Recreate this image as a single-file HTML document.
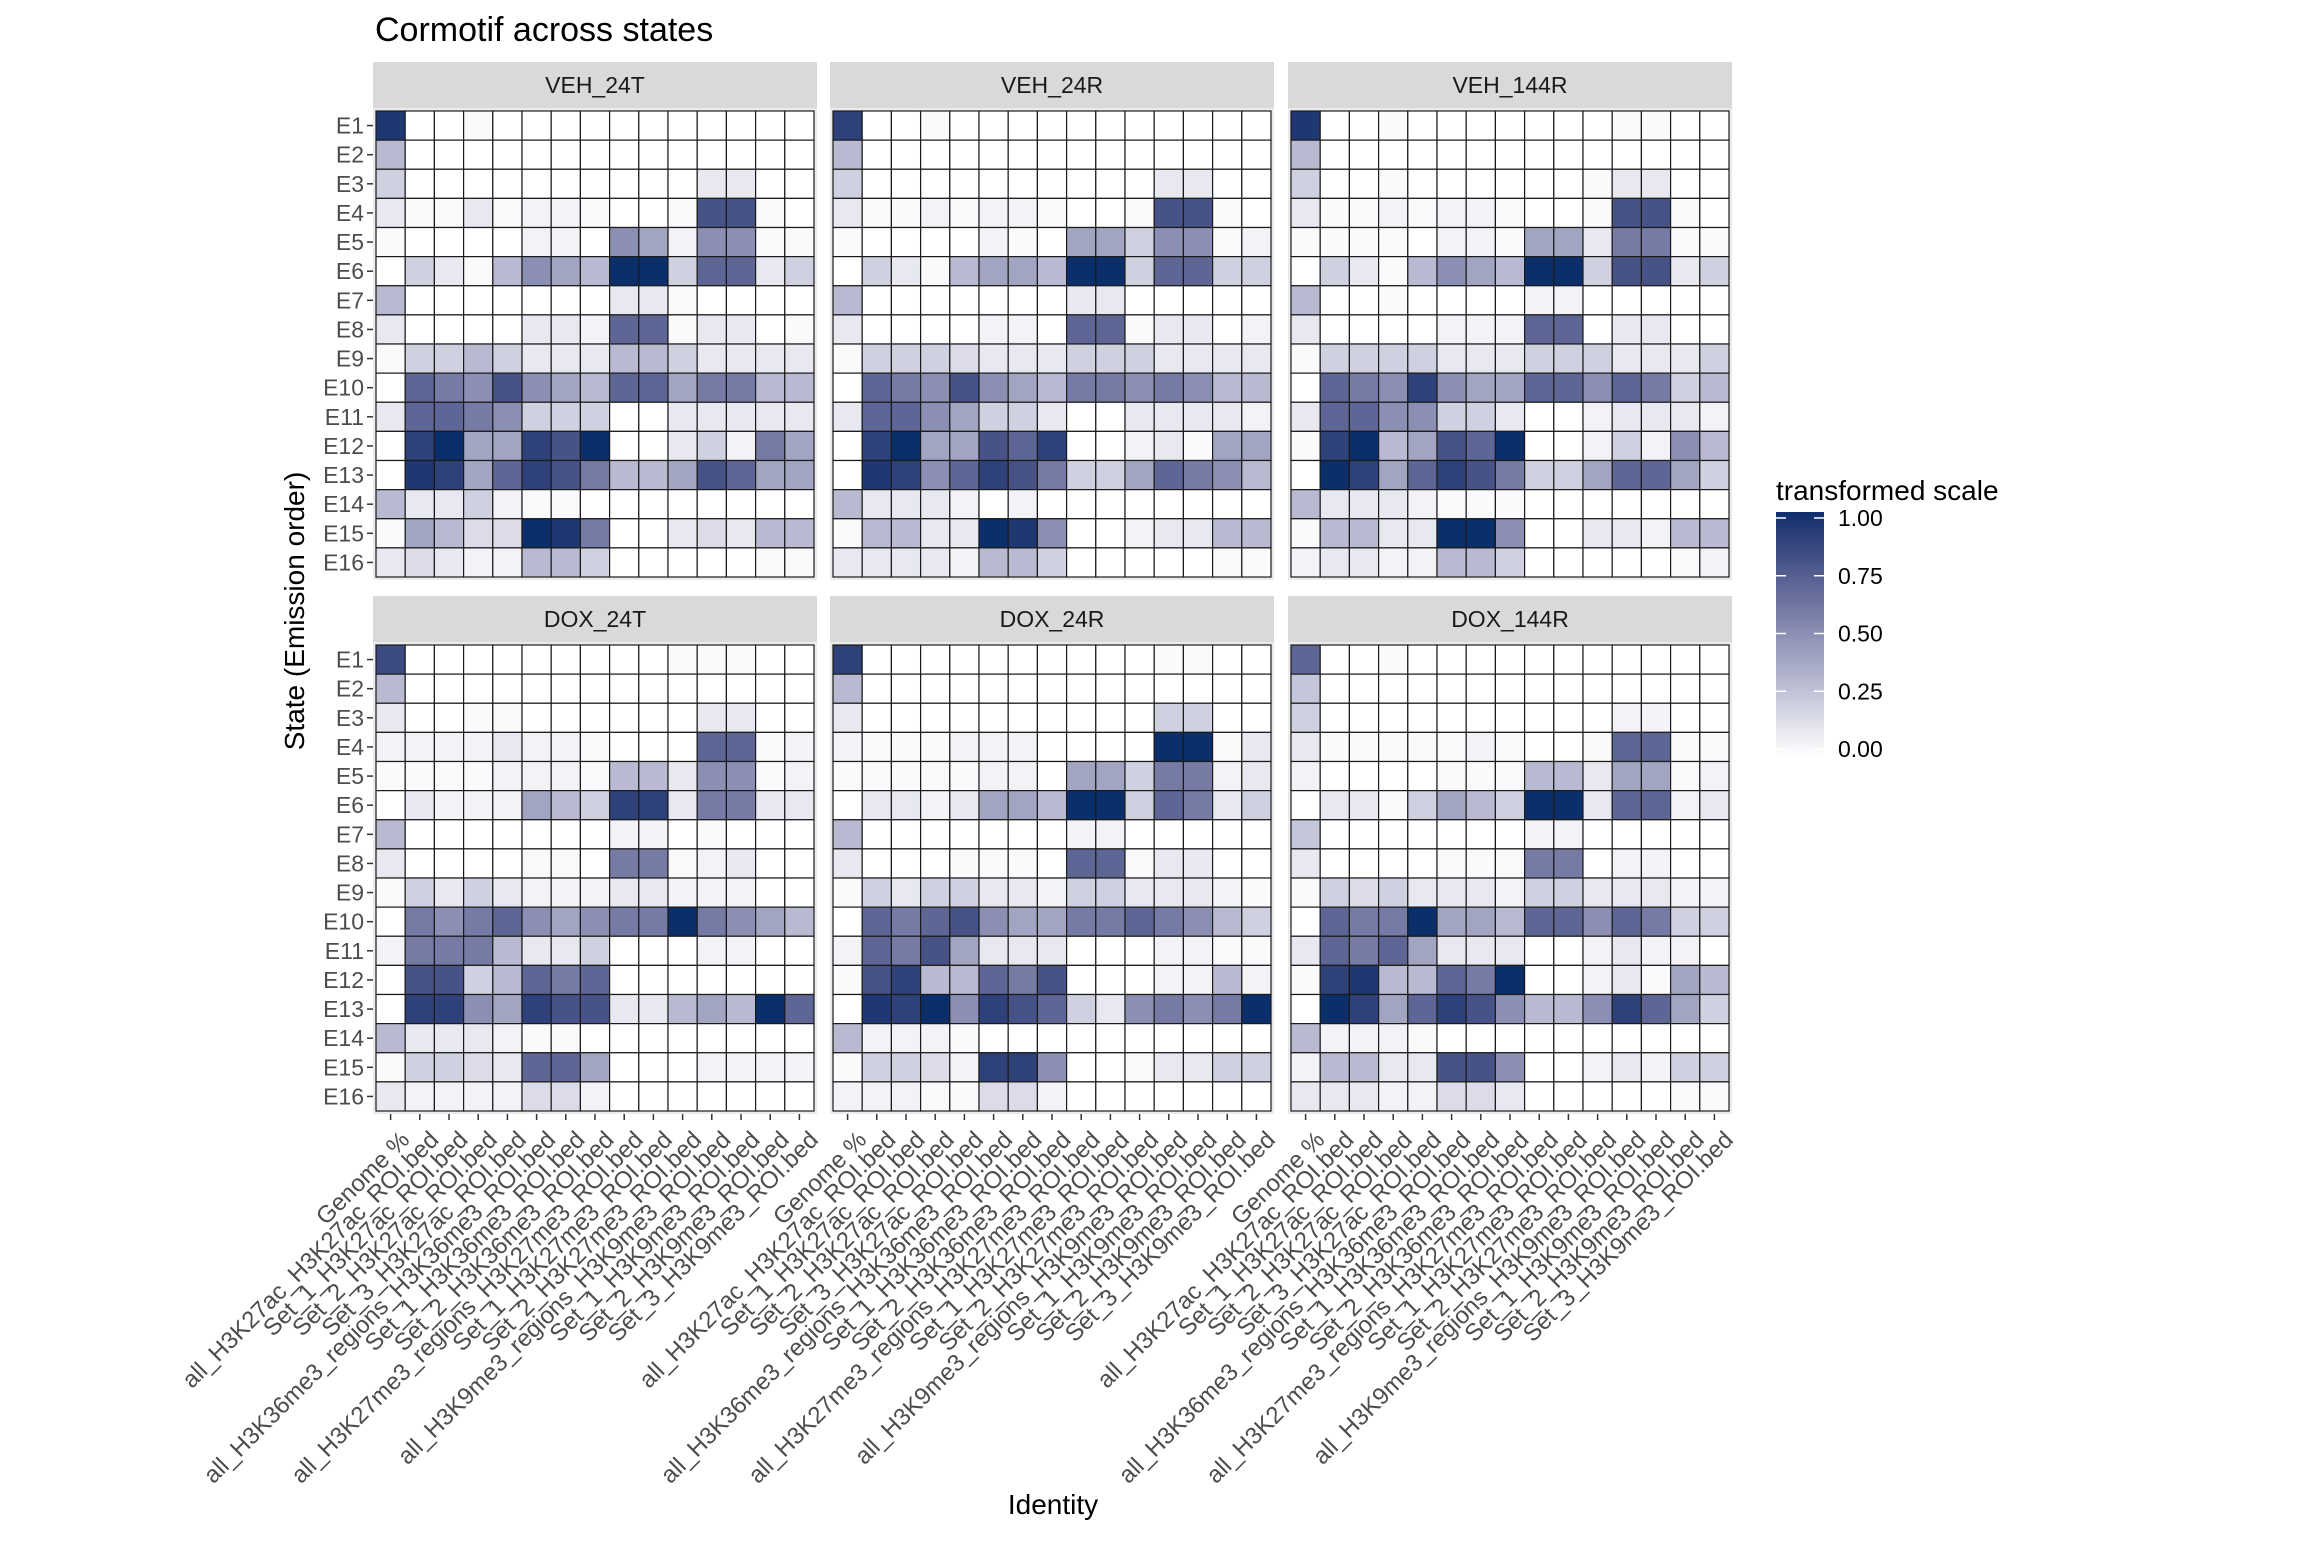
<!DOCTYPE html>
<html><head><meta charset="utf-8"><style>
html,body{margin:0;padding:0;background:#fff;}
svg text{font-family:"Liberation Sans",Arial,sans-serif;}
</style></head><body>
<svg id="chart" width="2304" height="1536" viewBox="0 0 2304 1536" xmlns="http://www.w3.org/2000/svg">
<rect width="2304" height="1536" fill="#fff"/>
<text x="375" y="41" font-size="34" fill="#000">Cormotif across states</text>
<text transform="translate(304,611) rotate(-90)" text-anchor="middle" font-size="28" fill="#000">State (Emission order)</text>
<text x="1053" y="1514" text-anchor="middle" font-size="28" fill="#000">Identity</text>
<g id="panels"></g>
<g id="legend"></g>
</svg>
<script>
const states = ["E1","E2","E3","E4","E5","E6","E7","E8","E9","E10","E11","E12","E13","E14","E15","E16"];
const identities = ["Genome %","all_H3K27ac_H3K27ac_ROI.bed","Set_1_H3K27ac_ROI.bed","Set_2_H3K27ac_ROI.bed","Set_3_H3K27ac_ROI.bed","all_H3K36me3_regions_H3K36me3_ROI.bed","Set_1_H3K36me3_ROI.bed","Set_2_H3K36me3_ROI.bed","all_H3K27me3_regions_H3K27me3_ROI.bed","Set_1_H3K27me3_ROI.bed","Set_2_H3K27me3_ROI.bed","all_H3K9me3_regions_H3K9me3_ROI.bed","Set_1_H3K9me3_ROI.bed","Set_2_H3K9me3_ROI.bed","Set_3_H3K9me3_ROI.bed"];
const panelNames = ["VEH_24T","VEH_24R","VEH_144R","DOX_24T","DOX_24R","DOX_144R"];
const legendTicks = [0, 0.25, 0.5, 0.75, 1];
const legendLabels = ["0.00","0.25","0.50","0.75","1.00"];
// values on 0-10 scale (divided by 10)
const veh24T = [
[9.5,0,0,0.2,0,0,0,0,0,0,0,0,0,0,0],
[3,0,0,0,0,0,0,0,0,0,0,0,0,0,0],
[2,0,0,0,0,0,0,0,0,0,0,1,1,0,0],
[1,0.2,0.2,1,0.2,0.5,0.5,0.2,0,0,0.2,8,8,0.2,0],
[0.2,0,0,0,0,0.5,0.5,0,5,4,0.5,5,5,0.2,0.2],
[0,2,1,0.2,3,5,4,3,10,10,2,7,7,1,2],
[3,0,0,0,0,0,0,0,1,1,0.2,0,0,0,0],
[1,0,0,0,0,1,1,0.5,7,7,0.2,1,1,0,0.2],
[0.2,2,2,3,2,1,1,1,3,3,2,1,1,1,1],
[0,7,6,5,8,5,4,3,7,7,4,6,6,3,3],
[1,7,7,6,5,2,2,2,0,0,1,1,1,1,1],
[0,9,10,4,4,9,8,10,0,0,1,2,0.5,6,4],
[0,9.5,9,4,7,9,8,6,3,3,4,8,7,4,4],
[3,1,1,2,0.5,0.2,0.2,0,0,0,0,0,0,0,0],
[0.2,4,3,1.5,1.5,10,9.5,6,0,0,1,1.5,1,3,3],
[1,1.5,1,0.5,0.5,3,3,2,0,0,0,0,0,0.2,0.2]];
const veh24R = [
[9,0,0,0.2,0,0,0,0,0,0,0,0,0,0,0],
[3,0,0,0,0,0,0,0,0,0,0,0,0,0,0],
[2,0,0,0,0,0,0,0,0,0,0,1,1,0,0],
[1,0.2,0.2,0.5,0.2,0.5,0.5,0.2,0,0,0.2,8,8,0.2,0],
[0.2,0,0,0,0,0.5,0.2,0,4,4,2,5,5,0.2,0.5],
[0,2,1,0.2,3,4,4,3,10,10,2,7,7,2,2],
[3,0,0,0,0,0,0,0,1,1,0,0,0,0,0],
[1,0,0,0,0,0.5,0.5,0,7,7,0.2,1,1,0,0.5],
[0.2,2,2,2,1.5,1,1,1,2,2,2,1,1,1,1],
[0,7,6,5,8,5,4,3,6,6,5,6,5,3,3],
[1,7,7,5,4,2,2,1,0,0,1,1,1,1,0.5],
[0,9,10,4,4,8,7,9,0,0,0.5,1,0.2,4,4],
[0,9.5,9,5,7,9,8,6,2,2,4,7,6,5,3],
[3,1,1,1,0.5,0,0.5,0,0,0,0,0,0,0,0],
[0.2,3,3,1,1,10,9.5,5,0,0,0.5,1,1,3,3],
[1,1,1,1,0.5,3,3,2,0,0,0,0,0,0.2,0.2]];
const veh144R = [
[9.5,0,0,0.2,0,0,0,0,0,0,0,0.2,0.2,0,0],
[3,0,0,0,0,0,0,0,0,0,0,0,0,0,0],
[2,0,0,0.2,0,0,0,0,0,0,0.2,1,1,0,0],
[1,0.2,0.2,0.5,0.2,0.5,0.5,0.2,0,0,0.2,8,8,0.2,0],
[0.2,0.2,0.2,0.2,0,0.5,0.5,0.2,4,4,1,6,6,0.2,0.2],
[0,2,1,0.2,3,5,4,3,10,10,2,8,8,1,2],
[3,0,0,0.2,0,0,0,0,0.5,0.5,0,0,0,0,0],
[1,0,0,0,0,0.5,0.5,0.5,7,7,0,1,1,0,0],
[0.2,2,2,2,2,1,1,1,2,2,2,1,1,1,2],
[0,7,6,5,9,5,4,4,7,7,5,7,6,2,3],
[1,7,7,5,5,2,2,1,0,0,0.5,1,1,1,0.5],
[0.2,9,10,3,4,8,7,10,0,0,0.5,2,0.5,5,3],
[0,10,9,4,7,9,8,6,2,2,4,7,7,4,2],
[3,1,1,1,0.5,0.2,0.2,0.2,0,0,0,0,0,0,0],
[0.2,3,3,1,1,10,10,5,0,0,1,1,0.5,3,3],
[0.5,1,1,0.5,0.5,3,3,2,0,0,0,0,0,0.2,0.5]];
const dox24T = [
[8.5,0,0,0,0,0,0,0,0,0,0.2,0.2,0.2,0,0],
[3,0,0,0,0,0,0,0,0,0,0,0,0,0,0],
[1,0,0,0.2,0.2,0,0,0,0,0,0,1,1,0,0],
[0.5,0.5,0.5,0.5,1,0.5,0.5,0.2,0,0,0,7,7,0.2,0.5],
[0.2,0.2,0.2,0.2,0.5,0.5,0.5,0.2,3,3,1,5,5,0.2,0.5],
[0,1,0.5,0.5,0.5,4,3,2,9,9,1,6,6,1,1],
[3,0,0,0,0,0,0,0,0.5,0.5,0,0.2,0,0,0],
[1,0,0,0,0,0.2,0.2,0,6,6,0.2,0.5,1,0,0],
[0.2,2,1,2,1,0.5,0.5,0.5,1,1,0.5,0.5,0.5,0,0],
[0,6,5,6,7,5,4,5,6,6,10,6,5,4,3],
[0.5,6,6,6,3,1,1,2,0,0,0,0.5,0.5,0,0],
[0,8,8,2,3,7,6,7,0,0,0,0,0,0,0],
[0,9,9,5,4,9,8,8,1,1,3,4,3,10,7],
[3,1,1,1,0.5,0.2,0.2,0,0,0,0,0,0,0,0],
[0.2,2,2,1.5,1,7,7,4,0,0,0,0.5,0.5,0.5,0.5],
[1,0.5,0.5,0.5,0.5,1.5,1.5,0.5,0,0,0,0,0,0,0]];
const dox24R = [
[9,0,0,0,0,0,0,0,0,0,0,0.2,0.2,0,0],
[3,0,0,0,0,0,0,0,0,0,0,0,0,0,0],
[1,0,0,0,0,0,0,0,0,0,0,2,2,0,0],
[0.5,0.2,0.2,0.2,0.5,0.5,0.5,0,0,0,0,10,10,0.2,1],
[0.2,0.2,0.2,0.2,0.2,0.5,0.5,0,4,4,2,6,6,0.5,1],
[0,1,1,0.5,1,4,4,3,10,10,2,7,6,1,2],
[3,0,0,0,0,0,0,0,0.5,0.5,0,0,0,0,0],
[1,0,0,0,0.2,0.2,0.2,0,7,7,0.2,1,1,0,0],
[0.2,2,1,2,2,1,1,0.5,2,2,1,1,1,0.5,0.2],
[0,7,6,7,8,5,4,4,6,6,7,6,5,3,2],
[0.5,7,6,8,4,1,1,1,0,0,0,0.5,0.5,0.2,0.2],
[0.2,8,9,3,3,7,6,8,0,0,0,0.5,0.5,3,0.5],
[0,9.5,9,10,5,9,8,7,2,1,5,6,5,6,10],
[3,0.5,0.5,0.5,0.2,0,0,0,0,0,0,0,0,0,0],
[0.2,2,2,1.5,0.5,9,9,5,0,0,0.2,1,1,2,2],
[0.5,0.5,0.5,0.2,0.2,1.5,1.5,0.5,0,0,0,0,0,0,0]];
const dox144R = [
[7,0,0,0.2,0,0,0,0,0,0,0,0,0,0,0],
[2.5,0,0,0,0,0,0,0,0,0,0,0,0,0,0],
[2,0,0,0,0,0,0,0,0,0,0,0.5,0.5,0,0],
[1,0.2,0.2,0.2,0.2,0.2,0.5,0.2,0,0,0.2,7,7,0.2,0.2],
[0.5,0,0,0,0,0.2,0.2,0.2,3,3,1,4,4,0.2,0.5],
[0,1,1,0.2,2,4,3,2,10,10,1,7,7,0.5,1],
[2.5,0,0,0,0,0,0,0,0.5,0.5,0,0,0,0,0],
[1,0,0,0,0,0.2,0.2,0.2,6,6,0,0.5,0.5,0,0],
[0.2,2,1.5,2,1,1,1,0.5,2,2,1,1,1,0.5,0.5],
[0,7,6,6,10,4,4,3,7,7,5,7,6,2,2],
[1,7,6,7,4,1,1,1,0,0,0.5,1,0.5,0.5,0],
[0.2,9,9.5,3,3,7,6,10,0,0,0.5,1,0.2,4,3],
[0,10,9,4,7,9,8,5,3,3,5,9,7,4,2],
[3,0.5,0.5,0.5,0.2,0,0,0,0,0,0,0,0,0,0],
[0.5,3,3,1,1,8,8,5,0,0,0.5,1,0.5,2,2],
[1,1,1,0.5,0.5,1.5,1.5,1,0,0,0,0,0,0.2,0.2]];
const panelValues = [veh24T, veh24R, veh144R, dox24T, dox24R, dox144R];

const NS = "http://www.w3.org/2000/svg";
function mk(tag, attrs, parent){const e=document.createElementNS(NS,tag);for(const k in attrs)e.setAttribute(k,attrs[k]);if(parent)parent.appendChild(e);return e;}
function s2l(c){c/=255;return c<=0.04045?c/12.92:Math.pow((c+0.055)/1.055,2.4);}
function l2s(c){c=c<=0.0031308?12.92*c:1.055*Math.pow(c,1/2.4)-0.055;return Math.max(0,Math.min(255,Math.round(c*255)));}
function rgb2lab(r,g,b){r=s2l(r);g=s2l(g);b=s2l(b);let x=(r*0.4124+g*0.3576+b*0.1805)/0.95047,y=r*0.2126+g*0.7152+b*0.0722,z=(r*0.0193+g*0.1192+b*0.9505)/1.08883;const f=t=>t>0.008856?Math.cbrt(t):7.787*t+16/116;x=f(x);y=f(y);z=f(z);return [116*y-16,500*(x-y),200*(y-z)];}
function lab2rgb(L,a,b){let y=(L+16)/116,x=a/500+y,z=y-b/200;const fi=t=>t*t*t>0.008856?t*t*t:(t-16/116)/7.787;x=fi(x)*0.95047;y=fi(y);z=fi(z)*1.08883;const r=x*3.2406+y*-1.5372+z*-0.4986,g=x*-0.9689+y*1.8758+z*0.0415,bb=x*0.0557+y*-0.2040+z*1.0570;return [l2s(r),l2s(g),l2s(bb)];}
const lowLab=rgb2lab(255,255,255), highLab=rgb2lab(11,47,107);
function color(v){v=Math.max(0,Math.min(1,v));const c=lab2rgb(lowLab[0]+(highLab[0]-lowLab[0])*v,lowLab[1]+(highLab[1]-lowLab[1])*v,lowLab[2]+(highLab[2]-lowLab[2])*v);return `rgb(${c[0]},${c[1]},${c[2]})`;}

const lefts=[376,833,1291], tops=[111,645], PW=438, PH=466;
const cw=PW/identities.length, ch=PH/states.length;
const g=document.getElementById("panels");
panelNames.forEach((name,pi)=>{
  const px=lefts[pi%3], py=tops[Math.floor(pi/3)];
  const pg=mk("g",{},g);
  
  
  const strip=mk("rect",{x:px-3,y:py-49,width:PW+6,height:46,fill:"#D9D9D9"},pg);
  
  
  const st=mk("text",{x:px+PW/2,y:py-18,"text-anchor":"middle","font-size":"23",fill:"#1A1A1A"},pg);
  st.textContent=name;
  
  
  const bg=mk("rect",{x:px-3,y:py-3,width:PW+6,height:PH+6,fill:"#EBEBEB"},pg);
  
  
  const vals=panelValues[pi];
  states.forEach((s,r)=>{
    identities.forEach((id,c)=>{
      const cell=mk("rect",{x:px+c*cw,y:py+r*ch,width:cw,height:ch,fill:color(vals[r][c]/10),stroke:"#1a1a1a","stroke-width":"1.2"},pg);
      
      
    });
  });
  if(pi%3===0){
    states.forEach((s,r)=>{
      const yc=py+(r+0.5)*ch;
      mk("line",{x1:px-9,x2:px-3,y1:yc,y2:yc,stroke:"#333","stroke-width":"1.5"},pg);
      const t=mk("text",{x:px-12,y:yc+8,"text-anchor":"end","font-size":"23",fill:"#4D4D4D"},pg);
      t.textContent=s;
      
      
    });
  }
  if(pi>=3){
    identities.forEach((id,c)=>{
      const xc=px+(c+0.5)*cw, yb=py+PH+3;
      mk("line",{x1:xc,x2:xc,y1:yb,y2:yb+6,stroke:"#333","stroke-width":"1.5"},pg);
      const ax=xc+8, ay=yb+15;
      const t=mk("text",{x:0,y:0,"text-anchor":"end","font-size":"24",fill:"#4D4D4D",dy:"0.72em",transform:`translate(${ax} ${ay}) rotate(-45)`},pg);
      t.textContent=id;
      
      
    });
  }
});
const lg=document.getElementById("legend");
const lt=mk("text",{x:1776,y:500,"font-size":"28",fill:"#000"},lg);
lt.textContent="transformed scale";


const by0=749, by1=518, steps=60;
for(let i=0;i<steps;i++){
  const v0=i/steps, h=(by0-by1+12)/steps;
  mk("rect",{x:1776,y:by0+6-(i+1)*h,width:48,height:h+0.6,fill:color(v0+0.5/steps)},lg);
}
legendTicks.forEach((v,i)=>{
  const y=by0-(by0-by1)*v;
  mk("line",{x1:1776,x2:1786,y1:y,y2:y,stroke:"#fff","stroke-width":"1.5"},lg);
  mk("line",{x1:1814,x2:1824,y1:y,y2:y,stroke:"#fff","stroke-width":"1.5"},lg);
  const t=mk("text",{x:1838,y:y+8,"font-size":"23",fill:"#000"},lg);
  t.textContent=legendLabels[i];
  
  
});
</script>
</body></html>
